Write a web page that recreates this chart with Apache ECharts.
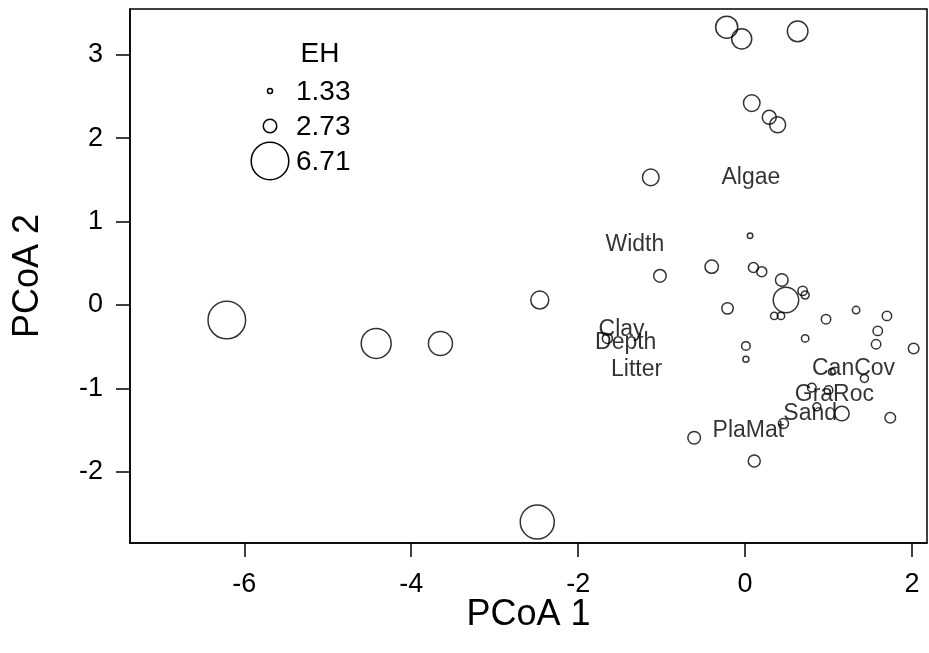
<!DOCTYPE html>
<html>
<head>
<meta charset="utf-8">
<script src="https://cdn.jsdelivr.net/npm/echarts@6/dist/echarts.min.js"></script>
<style>
  html, body { margin: 0; padding: 0; background: #fff; }
  #chartmain { width: 929px; height: 653px; }
</style>
</head>
<body>
<div id="chartmain"></div>
<script>
// sample scores on the first two axes, with EH (circle size)
var pcoa1 = [-6.21, -4.42, -3.65, -2.46, -2.49, -1.13, 0.06, -0.40, -1.02, 0.10,
             0.20, 0.44, 0.49, 0.69, 0.72, -0.21, 0.35, 0.43, 0.97, 1.33,
             1.70, 1.59, 1.57, 2.02, 0.72, 0.01, 0.01, -1.65, 1.04, 1.43,
             0.80, 1.00, 0.86, 1.16, 1.74, 0.46, -0.61, 0.11, -0.22, -0.04,
             0.63, 0.08, 0.29, 0.39];
var pcoa2 = [-0.18, -0.46, -0.46, 0.06, -2.60, 1.53, 0.83, 0.46, 0.35, 0.45,
             0.40, 0.30, 0.06, 0.17, 0.12, -0.04, -0.13, -0.13, -0.17, -0.06,
             -0.13, -0.31, -0.47, -0.52, -0.40, -0.49, -0.65, -0.40, -0.80, -0.88,
             -0.99, -1.02, -1.22, -1.30, -1.35, -1.42, -1.59, -1.87, 3.33, 3.19,
             3.28, 2.42, 2.25, 2.16];
var eh = [6.71, 5.45, 4.47, 3.48, 6.12, 3.24, 1.40, 2.72, 2.59, 2.16,
          2.16, 2.59, 4.70, 2.06, 1.83, 2.39, 1.73, 1.73, 2.06, 1.73,
          2.06, 2.06, 2.06, 2.25, 1.73, 1.92, 1.50, 2.16, 1.60, 1.83,
          1.92, 1.92, 1.83, 2.91, 2.25, 2.16, 2.59, 2.49, 4.14, 3.81,
          3.90, 3.24, 2.81, 3.15];

// environmental variable labels
var vecNames = ['Algae', 'Width', 'Clay', 'Depth', 'Litter', 'CanCov', 'GraRoc', 'Sand', 'PlaMat'];
var vecX = [0.07, -1.32, -1.48, -1.43, -1.30, 1.30, 1.07, 0.78, 0.04];
var vecY = [1.53, 0.72, -0.30, -0.45, -0.77, -0.76, -1.08, -1.30, -1.51];

var xTicks = [-6, -4, -2, 0, 2];
var yTicks = [-2, -1, 0, 1, 2, 3];
var legendEH = [1.33, 2.73, 6.71];

var FONT = '"Liberation Sans", Arial, Helvetica, sans-serif';

function ehSize(v) {
  return 2 * (3.03 * v - 1.53);
}

var pts = [];
for (var i = 0; i < pcoa1.length; i++) {
  pts.push([pcoa1[i], pcoa2[i], eh[i]]);
}
var vecs = [];
for (var i = 0; i < vecNames.length; i++) {
  vecs.push({ name: vecNames[i], value: [vecX[i], vecY[i]] });
}

// legend (drawn by hand, like R's legend())
var legendItems = [{
  type: 'text', x: 320, y: 54,
  style: { text: 'EH', font: '28px ' + FONT, fill: '#000',
           align: 'center', verticalAlign: 'middle' }
}];
var legY = [91, 126, 161];
for (var i = 0; i < legendEH.length; i++) {
  legendItems.push({
    type: 'circle',
    shape: { cx: 270, cy: legY[i], r: ehSize(legendEH[i]) / 2 },
    style: { fill: 'none', stroke: '#000', lineWidth: 1.5 }
  });
  legendItems.push({
    type: 'text', x: 296, y: legY[i] + 1,
    style: { text: legendEH[i].toFixed(2), font: '28px ' + FONT, fill: '#000',
             verticalAlign: 'middle', align: 'left' }
  });
}

var axisCommon = {
  type: 'value',
  nameLocation: 'middle',
  nameMoveOverlap: false,
  nameTextStyle: { fontFamily: FONT, fontSize: 36, color: '#000' },
  splitLine: { show: false },
  axisLine: { show: true, onZero: false, lineStyle: { color: '#000', width: 1.5 } },
  axisTick: { show: true, length: 14, lineStyle: { color: '#000', width: 1.5 } },
  axisLabel: { fontFamily: FONT, fontSize: 27, color: '#000', margin: 27 }
};

var option = {
  animation: false,
  backgroundColor: '#fff',
  grid: {
    left: 130, right: 2, top: 9, bottom: 110,
    show: true, borderColor: '#000', borderWidth: 1.5
  },
  xAxis: echarts.util.merge({
    min: -7.37, max: 2.18, name: 'PCoA 1', nameGap: 54,
    axisTick: { customValues: xTicks },
    axisLabel: { customValues: xTicks, margin: 28 }
  }, axisCommon),
  yAxis: echarts.util.merge({
    min: -2.852, max: 3.548, name: 'PCoA 2', nameGap: 84,
    axisTick: { customValues: yTicks },
    axisLabel: { customValues: yTicks }
  }, axisCommon),
  graphic: legendItems,
  series: [{
    type: 'scatter',
    data: pts,
    symbol: 'circle',
    symbolSize: function (d) { return ehSize(d[2]); },
    itemStyle: { color: 'rgba(0,0,0,0)', borderColor: '#000', borderWidth: 1.5 },
    emphasis: { disabled: true },
    silent: true
  }, {
    type: 'scatter',
    data: vecs,
    symbolSize: 0,
    label: {
      show: true, position: 'inside', formatter: '{b}',
      fontFamily: FONT, fontSize: 23, color: '#000',
      textBorderWidth: 0
    },
    emphasis: { disabled: true },
    silent: true
  }]
};

var myChart = echarts.init(document.getElementById('chartmain'));
myChart.setOption(option);
</script>
</body>
</html>
